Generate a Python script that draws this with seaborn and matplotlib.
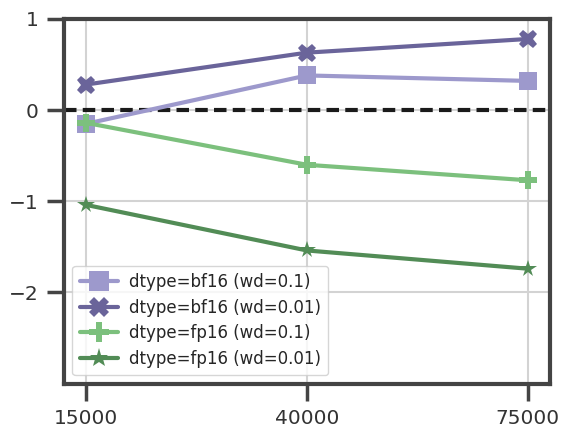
import pandas as pd
import numpy as np
import matplotlib
matplotlib.use("Agg")
import matplotlib.pyplot as plt
import seaborn as sns

steps = ["15000", "40000", "75000"]
labels = ["dtype=bf16 (wd=0.1)", "dtype=bf16 (wd=0.01)",
          "dtype=fp16 (wd=0.1)", "dtype=fp16 (wd=0.01)"]
bf16_wd01 = [-0.15, 0.38, 0.32]
bf16_wd001 = [0.28, 0.63, 0.78]
fp16_wd01 = [-0.14, -0.60, -0.77]
fp16_wd001 = [-1.04, -1.54, -1.74]
colors = ["#9d99cc", "#6a649a", "#7cc07d", "#528c56"]
markers = ["s", "X", "P", "*"]

series = [bf16_wd01, bf16_wd001, fp16_wd01, fp16_wd001]
df = pd.DataFrame({
    "step": steps * len(labels),
    "value": np.concatenate(series),
    "run": np.repeat(labels, len(steps)),
})

sns.set_style("ticks", {"axes.grid": True})
plt.rcParams['font.family'] = ['DejaVu Sans']

fig = plt.figure(figsize=(5.61, 4.30), dpi=100)
ax = fig.add_axes([0.114, 0.108, 0.866, 0.848])

sns.lineplot(data=df, x="step", y="value", hue="run", style="run",
             hue_order=labels, style_order=labels,
             palette=colors, markers=markers, dashes=False,
             linewidth=3, markersize=13, markeredgewidth=0, ax=ax)

# zero reference line
ax.axhline(0, color="#1a1a1a", linestyle="--", linewidth=3, dashes=(3, 1.5), zorder=1)

ax.set_xlim(-0.1, 2.1)
ax.set_ylim(-3, 1)
ax.set_yticks([1, 0, -1, -2])
ax.set_xlabel("")
ax.set_ylabel("")
ax.grid(True, color="#d3d3d3", linewidth=1.5)
for sp in ax.spines.values():
    sp.set_color("#444444")
    sp.set_linewidth(3)
ax.tick_params(axis="both", which="major", length=12, width=2.5, color="#444444",
               labelsize=14.5, labelcolor="#333333", pad=6)

leg = ax.legend(loc="lower left", fontsize=12, frameon=True, handlelength=2.3,
                borderpad=0.45, labelspacing=0.45, handletextpad=0.65, markerscale=1.1)
leg.get_frame().set_alpha(0.8)
leg.get_frame().set_edgecolor("#cccccc")

fig.savefig("out.png", dpi=100)
